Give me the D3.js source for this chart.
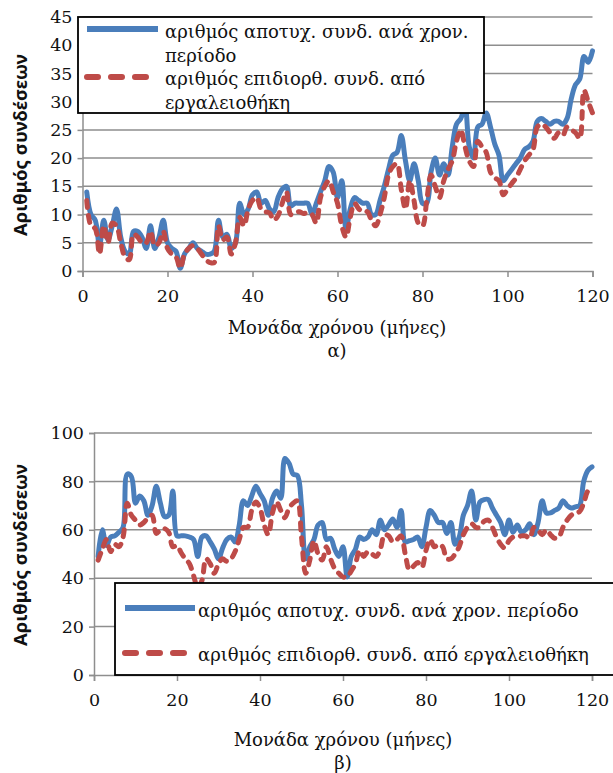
<!DOCTYPE html>
<html>
<head>
<meta charset="utf-8">
<script src="https://cdn.jsdelivr.net/npm/d3@7"></script>
<style>
  html, body { margin: 0; padding: 0; background: #fff; }
  svg { display: block; }
</style>
</head>
<body>
<div id="chart"></div>
<script>
// Month index (x categories) shared by both panels
const months = d3.range(1, 121);
const xTicks = [0, 20, 40, 60, 80, 100, 120];

// Panel (α): failed connections per period / connections repaired by the toolbox
const failedA = [
  14, 10, 9, 4.5, 9, 5.5, 8, 11, 6, 3.5,
  3, 7, 7, 6, 4, 8, 4, 6, 9, 5,
  4, 3.5, 0.5, 3, 4, 5, 4, 3.5, 3, 3,
  3.5, 9, 6, 6.5, 4, 5, 12, 10, 11, 13.5,
  14, 12, 12.5, 11, 10.5, 13, 14.5, 15, 11.5, 12,
  12, 12, 12, 10, 12, 14, 16, 18.5, 17.5, 13,
  16, 7.5, 11, 13, 12.5, 12, 12, 10, 10, 12.5,
  15, 18, 20.5, 21, 24, 19.5, 16, 19, 16, 12,
  12, 17.5, 20, 17, 19, 17, 22, 26, 27, 29,
  22, 20, 25.5, 26, 28, 25.5, 22.5, 20.5, 16, 17,
  18, 19, 20, 21.5, 22, 23, 26.5, 27, 26.5, 26,
  26.5, 26.5, 26, 27, 30.5, 33, 34, 38, 37, 39
];
const repairedA = [
  12.5, 8, 7.5, 3, 8, 5, 8.5, 8, 5, 2.5,
  2, 6.5, 6, 5, 5, 7, 4.5, 5, 7, 4,
  3, 2.5, 0.5, 3, 4, 4.5, 4, 3, 2, 1.5,
  1.5, 8, 5.5, 6, 3, 5, 9.5, 8, 11, 12.5,
  13, 11, 10.5, 10.3, 9, 9.8, 12, 14, 10, 10.3,
  10.5, 10.2, 10.3, 10, 8.5, 13, 15, 16, 14, 12,
  8, 6, 9.5, 12, 11, 10.5, 10.5, 9, 8, 10,
  13, 17, 18.5, 19, 14.5, 11, 16, 12.5, 8.5, 8,
  12.5, 17, 15, 13, 16, 18, 19.5, 23, 25, 22,
  19.5, 18.5, 23, 22, 21, 17.5, 16.5, 16, 13.5, 14.5,
  15.5, 16.5, 18, 19.5, 20.5, 21.5, 25.5, 26, 25.5, 24.5,
  23.5, 24.5, 24, 25.5, 25, 24.5, 23.5, 32, 30, 28
];
const yTicksA = [0, 5, 10, 15, 20, 25, 30, 35, 40, 45];

// Panel (β)
const failedB = [
  49, 60, 53.5, 57, 57.5, 59, 61, 83, 82, 71,
  74, 72, 66, 70, 78, 71, 65.5, 66, 76, 57.5,
  57.5, 57.5, 57, 56, 49, 57, 57.5, 55, 52, 48,
  52.5, 56, 57, 55, 62, 72, 70, 74, 78, 75,
  72, 66, 73, 76, 73, 89.5, 87.5, 83, 82.5, 70,
  48, 53, 56, 62, 63, 56, 56.5, 52, 49, 53,
  40.5, 49, 52, 57, 56, 57, 60, 58, 64, 60,
  62, 64.5, 61, 68, 55, 55.5, 56, 57, 53, 61,
  68, 66, 63, 63, 58.5, 63, 54, 57, 66, 70,
  76, 64, 71.5, 72.5, 72.5, 69, 66, 63, 58, 64,
  59, 62, 59, 60, 62.5, 58, 63, 72, 67, 67,
  68, 69, 72, 70, 69, 69.5, 70, 80, 84.5, 86
];
const repairedB = [
  47.5, 52, 56, 51, 54, 53, 57, 71, 66, 64,
  62, 63, 65, 66, 58.5, 60, 60.5, 59, 53, 53.5,
  50.5, 48, 46, 41, 36, 39, 48, 46, 42, 46,
  48, 47, 48, 51, 56, 61, 61, 68, 71.5, 69,
  62, 58, 67, 71.5, 68, 65, 69, 71, 72, 57,
  42, 47.5, 55.5, 50, 47.5, 53, 48, 44, 42, 40.5,
  40.5, 43, 46, 51.5, 49, 51, 50, 49, 52, 58,
  57.5, 55, 56, 57.5, 50, 43.5, 45, 46.5, 44.5, 51.5,
  56, 53, 54, 53, 48, 48, 50, 53, 58, 61,
  62.5, 61, 61, 63.5, 64, 61, 57, 54, 52.5, 55.5,
  57, 57, 57.5, 57.5, 56.5, 61, 60, 58, 60, 58,
  56.5, 57, 61, 64, 66, 67, 67.5, 71, 76, 77
];
const yTicksB = [0, 20, 40, 60, 80, 100];

const seriesNames = [
  "αριθμός αποτυχ. συνδ. ανά χρον. περίοδο",
  "αριθμός επιδιορθ. συνδ. από εργαλειοθήκη"
];
const yTitle = "Αριθμός συνδέσεων";
const xTitle = "Μονάδα χρόνου (μήνες)";

const BLUE = "#4a7ebb";
const RED = "#be4b48";
const GRID = "#8e8e8e";
const SERIF = "'DejaVu Serif', serif";
const SANS = "'Noto Sans', 'Open Sans', sans-serif";
const FS = 18;      // legend / title text size
const FS_TICK = 17.5;

const svg = d3.select("#chart").append("svg")
  .attr("width", 613).attr("height", 773);

function panel(cfg) {
  const x = d3.scaleLinear().domain([0, 120]).range(cfg.xRange);
  const y = d3.scaleLinear().domain(cfg.yDomain).range(cfg.yRange);
  const g = svg.append("g");

  // horizontal gridlines
  g.append("g").selectAll("line").data(cfg.yTicks.slice(1)).join("line")
    .attr("x1", cfg.xRange[0]).attr("x2", cfg.xRange[1])
    .attr("y1", d => y(d)).attr("y2", d => y(d))
    .attr("stroke", GRID).attr("stroke-width", 1.5);

  // y axis
  const ya = g.append("g").attr("transform", `translate(${cfg.xRange[0]},0)`)
    .call(d3.axisLeft(y).tickValues(cfg.yTicks).tickSize(5).tickPadding(5).tickFormat(d3.format("d")));
  ya.select(".domain").attr("stroke", GRID).attr("stroke-width", 1.5);
  ya.selectAll(".tick line").attr("stroke", GRID).attr("stroke-width", 1.5);
  ya.selectAll("text").attr("font-family", SERIF).attr("font-size", FS_TICK).attr("fill", "#111");

  // x axis
  const xa = g.append("g").attr("transform", `translate(0,${cfg.yRange[0]})`)
    .call(d3.axisBottom(x).tickValues(xTicks).tickSize(6).tickPadding(13).tickFormat(d3.format("d")));
  xa.select(".domain").attr("stroke", GRID).attr("stroke-width", 1.5);
  xa.selectAll(".tick line").attr("stroke", GRID).attr("stroke-width", 1.5);
  xa.selectAll("text").attr("font-family", SERIF).attr("font-size", FS_TICK).attr("fill", "#111");

  // series
  const line = d3.line().x((d, i) => x(months[i])).y(d => y(d)).curve(d3.curveCatmullRom.alpha(0.5));
  g.append("path").datum(cfg.failed).attr("d", line)
    .attr("fill", "none").attr("stroke", BLUE).attr("stroke-width", 5)
    .attr("stroke-linejoin", "round").attr("stroke-linecap", "round");
  g.append("path").datum(cfg.repaired).attr("d", line)
    .attr("fill", "none").attr("stroke", RED).attr("stroke-width", 5)
    .attr("stroke-dasharray", "7,8").attr("stroke-linecap", "round");

  // axis titles
  g.append("text").attr("transform", `translate(${cfg.yTitlePos[0]},${cfg.yTitlePos[1]}) rotate(-90)`)
    .attr("text-anchor", "middle").attr("font-family", SANS).attr("font-weight", "bold")
    .attr("font-size", 18.5).attr("fill", "#111").text(yTitle);
  g.append("text").attr("x", cfg.xTitlePos[0]).attr("y", cfg.xTitlePos[1])
    .attr("text-anchor", "middle").attr("font-family", SERIF).attr("font-size", FS)
    .attr("fill", "#111").text(xTitle);
  g.append("text").attr("x", cfg.xTitlePos[0]).attr("y", cfg.xTitlePos[1] + 23)
    .attr("text-anchor", "middle").attr("font-family", SERIF).attr("font-size", FS)
    .attr("fill", "#111").text(cfg.label);

  // legend
  const L = cfg.legend;
  const lg = g.append("g");
  lg.append("rect").attr("x", L.x).attr("y", L.y).attr("width", L.w).attr("height", L.h)
    .attr("fill", "#fff").attr("stroke", "#000").attr("stroke-width", 1.8);
  L.rows.forEach((r, i) => {
    lg.append("line").attr("x1", L.sx[0]).attr("x2", L.sx[1]).attr("y1", r.sy).attr("y2", r.sy)
      .attr("stroke", i === 0 ? BLUE : RED).attr("stroke-width", 6)
      .attr("stroke-linecap", i === 0 ? "butt" : "round")
      .attr("stroke-dasharray", i === 0 ? null : "11,13");
    const t = lg.append("text").attr("font-family", SERIF).attr("font-size", FS).attr("fill", "#111");
    r.lines.forEach((s, k) => {
      t.append("tspan").attr("x", L.tx).attr("y", r.ty + k * 23.5).text(s);
    });
  });
}

panel({
  xRange: [82.5, 592.5], yDomain: [0, 45], yRange: [271, 17], yTicks: yTicksA,
  failed: failedA, repaired: repairedA,
  yTitlePos: [27, 145], xTitlePos: [337, 334], label: "α)",
  legend: {
    x: 78, y: 17, w: 406, h: 96, sx: [87, 158], tx: 165,
    rows: [
      { sy: 29, ty: 38, lines: ["αριθμός αποτυχ. συνδ. ανά χρον.", "περίοδο"] },
      { sy: 77, ty: 85, lines: ["αριθμός επιδιορθ. συνδ. από", "εργαλειοθήκη"] }
    ]
  }
});

panel({
  xRange: [94, 592], yDomain: [0, 100], yRange: [675, 433], yTicks: yTicksB,
  failed: failedB, repaired: repairedB,
  yTitlePos: [27, 555], xTitlePos: [343, 746], label: "β)",
  legend: {
    x: 115, y: 583, w: 510, h: 92, sx: [125, 195], tx: 198,
    rows: [
      { sy: 608, ty: 617, lines: [seriesNames[0]] },
      { sy: 653, ty: 661, lines: [seriesNames[1]] }
    ]
  }
});
</script>
</body>
</html>
